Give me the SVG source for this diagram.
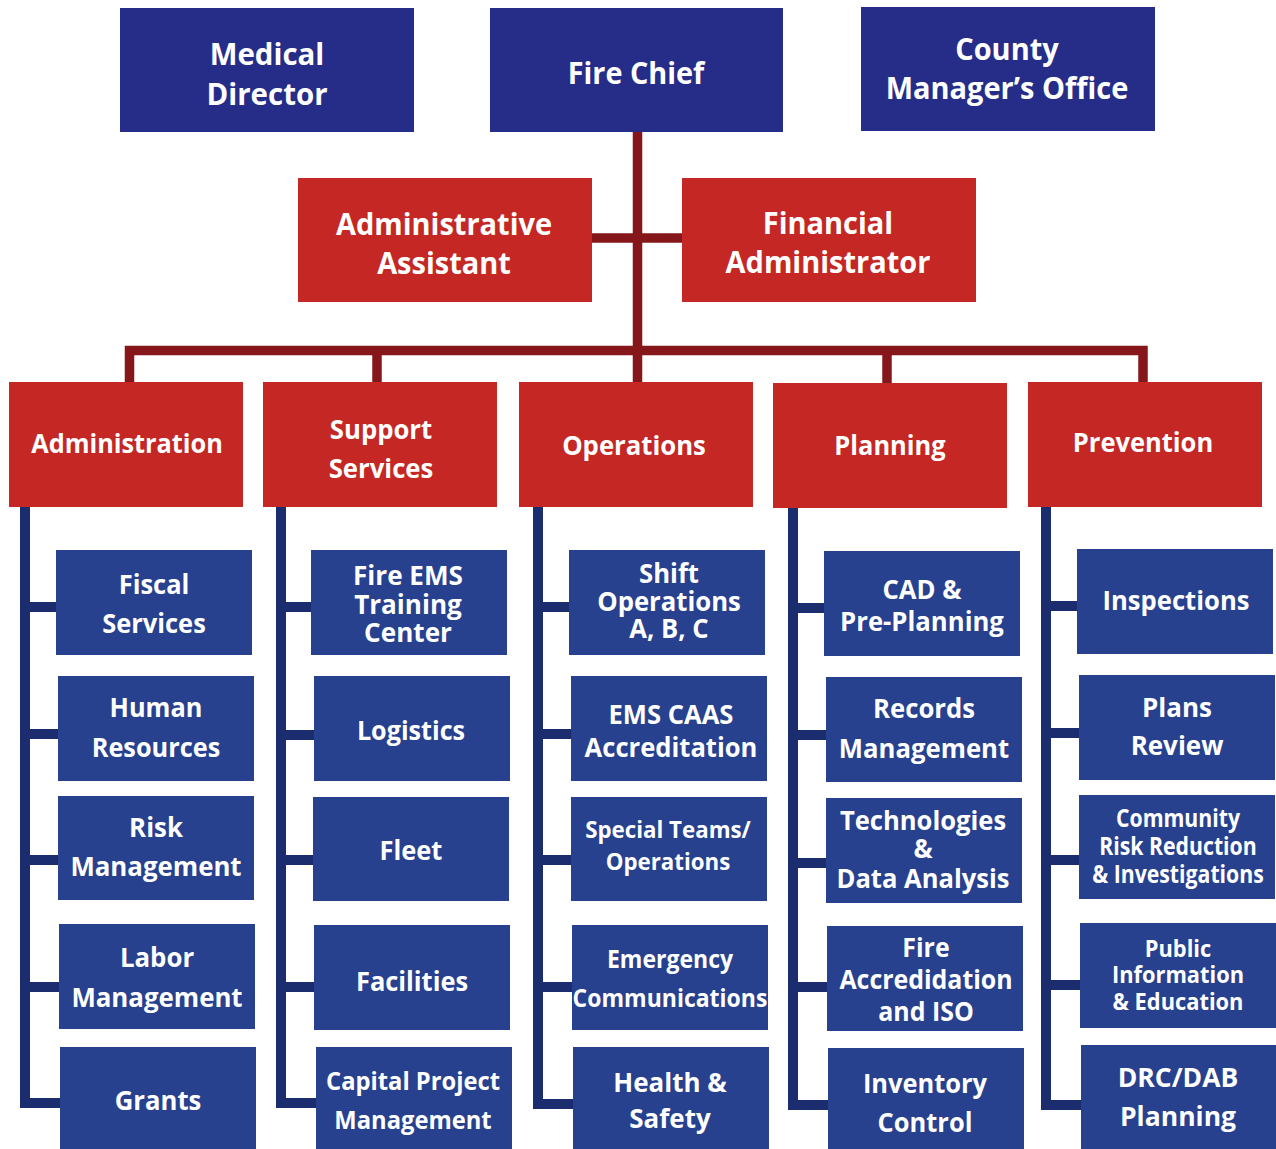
<svg xmlns="http://www.w3.org/2000/svg" width="1276" height="1149" viewBox="0 0 1276 1149">
<style>
.top{fill:#262D89}
.red{fill:#C42724}
.sub{fill:#27418F}
text{font-family:"Open Sans","Noto Sans","Liberation Sans",sans-serif;font-weight:700;fill:#FFFFFF;text-anchor:middle}
.t1{font-size:31px}
.t2{font-size:27.5px}
.t3{font-size:26.5px}
.t4{font-size:23px}
.t5{font-size:25px}
.rl{fill:none;stroke:#85171A;stroke-width:9.5;stroke-linejoin:miter}
.bl{fill:none;stroke:#1C2D6F;stroke-width:10;stroke-linejoin:miter}
</style>
<rect width="1276" height="1149" fill="#FFFFFF"/>
<g id="connectors">
<path class="rl" d="M637.5,132 V382"/>
<path class="rl" d="M592,238 H682"/>
<path class="rl" d="M129.5,382 V350.5 H1143 V382"/>
<path class="rl" d="M377,350.5 V382"/>
<path class="rl" d="M887,350.5 V383"/>
<path class="bl" d="M25,507 V1103 H60"/>
<path class="bl" d="M25,607 H56 M25,734 H58 M25,860 H58 M25,987 H59"/>
<path class="bl" d="M281,507 V1103 H316"/>
<path class="bl" d="M281,607 H311 M281,735 H314 M281,860 H313 M281,987 H314"/>
<path class="bl" d="M538,507 V1104 H573"/>
<path class="bl" d="M538,607 H569 M538,734 H571 M538,860 H571 M538,987 H572"/>
<path class="bl" d="M793,508 V1105 H828"/>
<path class="bl" d="M793,608 H824 M793,735 H826 M793,863 H826 M793,987 H827"/>
<path class="bl" d="M1046,507 V1105 H1081"/>
<path class="bl" d="M1046,606 H1077 M1046,733 H1079 M1046,860 H1079 M1046,985 H1080"/>
</g>
<g id="medical-director"><rect class="top" x="120" y="8" width="294" height="124"/><text class="t1" transform="translate(267 0) scale(0.95 1)"><tspan x="0" y="65">Medical</tspan><tspan x="0" y="105">Director</tspan></text></g>
<g id="fire-chief"><rect class="top" x="490" y="8" width="293" height="124"/><text class="t1" transform="translate(636 0) scale(0.93 1)"><tspan x="0" y="84">Fire Chief</tspan></text></g>
<g id="county-manager"><rect class="top" x="861" y="7" width="294" height="124"/><text class="t1" transform="translate(1007 0) scale(0.935 1)"><tspan x="0" y="60">County</tspan><tspan x="0" y="99">Manager’s Office</tspan></text></g>
<g id="admin-assistant"><rect class="red" x="298" y="178" width="294" height="124"/><text class="t1" transform="translate(444 0) scale(0.935 1)"><tspan x="0" y="235">Administrative</tspan><tspan x="0" y="274">Assistant</tspan></text></g>
<g id="financial-admin"><rect class="red" x="682" y="178" width="294" height="124"/><text class="t1" transform="translate(828 0) scale(0.935 1)"><tspan x="0" y="234">Financial</tspan><tspan x="0" y="273">Administrator</tspan></text></g>
<g id="administration"><rect class="red" x="9" y="382" width="234" height="125"/><text class="t2" transform="translate(127 0) scale(0.92 1)"><tspan x="0" y="453">Administration</tspan></text></g>
<g id="support-services"><rect class="red" x="263" y="382" width="234" height="125"/><text class="t2" transform="translate(381 0) scale(0.935 1)"><tspan x="0" y="439">Support</tspan><tspan x="0" y="478">Services</tspan></text></g>
<g id="operations"><rect class="red" x="519" y="382" width="234" height="125"/><text class="t2" transform="translate(634 0) scale(0.935 1)"><tspan x="0" y="455">Operations</tspan></text></g>
<g id="planning"><rect class="red" x="773" y="383" width="234" height="125"/><text class="t2" transform="translate(890 0) scale(0.925 1)"><tspan x="0" y="455">Planning</tspan></text></g>
<g id="prevention"><rect class="red" x="1028" y="382" width="234" height="125"/><text class="t2" transform="translate(1143 0) scale(0.927 1)"><tspan x="0" y="452">Prevention</tspan></text></g>
<g id="fiscal-services"><rect class="sub" x="56" y="550" width="196" height="105"/><text class="t3" transform="translate(154 0) scale(0.96 1)"><tspan x="0" y="594">Fiscal</tspan><tspan x="0" y="633">Services</tspan></text></g>
<g id="human-resources"><rect class="sub" x="58" y="676" width="196" height="105"/><text class="t3" transform="translate(156 0) scale(0.955 1)"><tspan x="0" y="717">Human</tspan><tspan x="0" y="757">Resources</tspan></text></g>
<g id="risk-management"><rect class="sub" x="58" y="796" width="196" height="104"/><text class="t3" transform="translate(156 0) scale(0.975 1)"><tspan x="0" y="837">Risk</tspan><tspan x="0" y="876">Management</tspan></text></g>
<g id="labor-management"><rect class="sub" x="59" y="924" width="196" height="105"/><text class="t3" transform="translate(157 0) scale(0.975 1)"><tspan x="0" y="967">Labor</tspan><tspan x="0" y="1007">Management</tspan></text></g>
<g id="grants"><rect class="sub" x="60" y="1047" width="196" height="102"/><text class="t3" transform="translate(158 0) scale(0.97 1)"><tspan x="0" y="1110">Grants</tspan></text></g>
<g id="training-center"><rect class="sub" x="311" y="550" width="196" height="105"/><text class="t3" transform="translate(408 0) scale(0.985 1)"><tspan x="0" y="585">Fire EMS</tspan><tspan x="0" y="614">Training</tspan><tspan x="0" y="642">Center</tspan></text></g>
<g id="logistics"><rect class="sub" x="314" y="676" width="196" height="105"/><text class="t3" transform="translate(411 0) scale(0.95 1)"><tspan x="0" y="740">Logistics</tspan></text></g>
<g id="fleet"><rect class="sub" x="313" y="797" width="196" height="104"/><text class="t3" transform="translate(411 0) scale(0.96 1)"><tspan x="0" y="860">Fleet</tspan></text></g>
<g id="facilities"><rect class="sub" x="314" y="925" width="196" height="105"/><text class="t3" transform="translate(412 0) scale(0.96 1)"><tspan x="0" y="991">Facilities</tspan></text></g>
<g id="capital-project"><rect class="sub" x="316" y="1047" width="196" height="102"/><text class="t5" transform="translate(413 0) scale(0.95 1)"><tspan x="0" y="1090">Capital Project</tspan><tspan x="0" y="1129">Management</tspan></text></g>
<g id="shift-operations"><rect class="sub" x="569" y="550" width="196" height="105"/><text class="t3" transform="translate(669 0) scale(0.97 1)"><tspan x="0" y="583">Shift</tspan><tspan x="0" y="611">Operations</tspan><tspan x="0" y="638">A, B, C</tspan></text></g>
<g id="ems-caas"><rect class="sub" x="571" y="676" width="196" height="105"/><text class="t3" transform="translate(671 0) scale(0.966 1)"><tspan x="0" y="724">EMS CAAS</tspan><tspan x="0" y="757">Accreditation</tspan></text></g>
<g id="special-teams"><rect class="sub" x="571" y="797" width="196" height="104"/><text class="t4" transform="translate(668 0) scale(0.97 1)"><tspan x="0" y="838">Special Teams/</tspan><tspan x="0" y="870">Operations</tspan></text></g>
<g id="emergency-comms"><rect class="sub" x="572" y="925" width="196" height="105"/><text class="t5" transform="translate(670 0) scale(0.92 1)"><tspan x="0" y="968">Emergency</tspan><tspan x="0" y="1007">Communications</tspan></text></g>
<g id="health-safety"><rect class="sub" x="573" y="1047" width="196" height="102"/><text class="t3" transform="translate(670 0) scale(0.98 1)"><tspan x="0" y="1092">Health &amp;</tspan><tspan x="0" y="1128">Safety</tspan></text></g>
<g id="cad-preplanning"><rect class="sub" x="824" y="551" width="196" height="105"/><text class="t3" transform="translate(922 0) scale(0.97 1)"><tspan x="0" y="599">CAD &amp;</tspan><tspan x="0" y="631">Pre-Planning</tspan></text></g>
<g id="records-management"><rect class="sub" x="826" y="677" width="196" height="105"/><text class="t3" transform="translate(924 0) scale(0.97 1)"><tspan x="0" y="718">Records</tspan><tspan x="0" y="758">Management</tspan></text></g>
<g id="technologies"><rect class="sub" x="826" y="798" width="196" height="105"/><text class="t3" transform="translate(923 0) scale(0.965 1)"><tspan x="0" y="830">Technologies</tspan><tspan x="0" y="858">&amp;</tspan><tspan x="0" y="888">Data Analysis</tspan></text></g>
<g id="fire-accreditation"><rect class="sub" x="827" y="926" width="196" height="105"/><text class="t3" transform="translate(926 0) scale(0.94 1)"><tspan x="0" y="957">Fire</tspan><tspan x="0" y="989">Accredidation</tspan><tspan x="0" y="1021">and ISO</tspan></text></g>
<g id="inventory-control"><rect class="sub" x="828" y="1048" width="196" height="101"/><text class="t3" transform="translate(925 0) scale(0.96 1)"><tspan x="0" y="1093">Inventory</tspan><tspan x="0" y="1132">Control</tspan></text></g>
<g id="inspections"><rect class="sub" x="1077" y="549" width="196" height="105"/><text class="t3" transform="translate(1176 0) scale(0.967 1)"><tspan x="0" y="610">Inspections</tspan></text></g>
<g id="plans-review"><rect class="sub" x="1079" y="675" width="196" height="105"/><text class="t3" transform="translate(1177 0) scale(0.98 1)"><tspan x="0" y="717">Plans</tspan><tspan x="0" y="755">Review</tspan></text></g>
<g id="community-risk"><rect class="sub" x="1079" y="795" width="196" height="104"/><text class="t5" transform="translate(1178 0) scale(0.85 1)"><tspan x="0" y="827">Community</tspan><tspan x="0" y="855">Risk Reduction</tspan><tspan x="0" y="883">&amp; Investigations</tspan></text></g>
<g id="public-information"><rect class="sub" x="1080" y="923" width="196" height="105"/><text class="t4" transform="translate(1178 0) scale(0.95 1)"><tspan x="0" y="957">Public</tspan><tspan x="0" y="983">Information</tspan><tspan x="0" y="1010">&amp; Education</tspan></text></g>
<g id="drc-dab"><rect class="sub" x="1081" y="1045" width="195" height="104"/><text class="t3" transform="translate(1178 0)"><tspan x="0" y="1087">DRC/DAB</tspan><tspan x="0" y="1126">Planning</tspan></text></g>
</svg>
